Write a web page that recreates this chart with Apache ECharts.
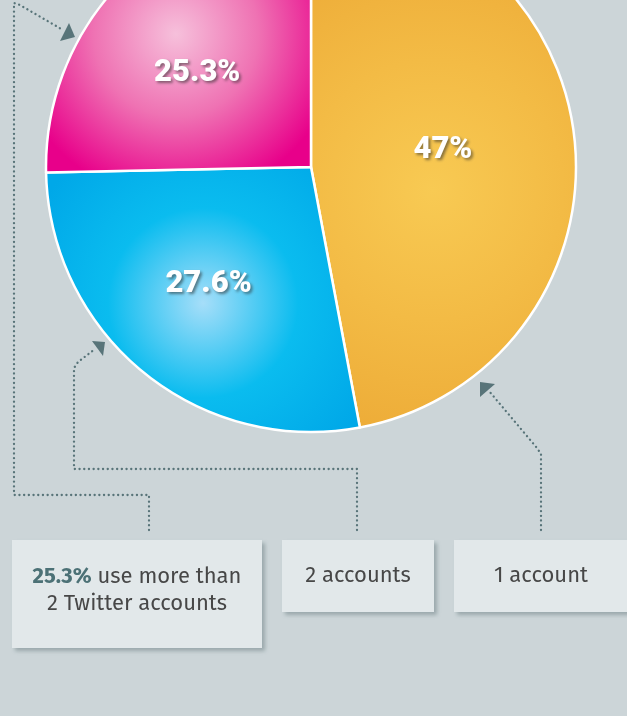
<!DOCTYPE html>
<html>
<head>
<meta charset="utf-8">
<script src="https://cdn.jsdelivr.net/npm/echarts@6/dist/echarts.min.js"></script>
<style>
html,body{margin:0;padding:0;background:#ccd5d8;}
#chart{width:627px;height:716px;}
</style>
</head>
<body>
<div id="chart"></div>
<script>
// Data
const categories = ['1 account', '2 accounts', 'more than 2 accounts'];
const values = [47, 27.6, 25.3];
const valueLabels = ['47%', '27.6%', '25.3%'];
const boxTexts = ['1 account', '2 accounts', '2 Twitter accounts'];

// Styles
const BG = '#ccd5d8';
const LINE = '#587479';
const gradients = [
  {x: 433, y: 190, r: 260, stops: ['#f8ca53', '#f3bb45', '#edab37']},
  {x: 203, y: 303, r: 190, stops: ['#a6def9', '#0abcef', '#00a8e8']},
  {x: 176, y: 34, r: 165, stops: ['#f6c0db', '#ef72b3', '#e8008a']}
];
const labelShift = [[-3, -4], [-17, 12], [-17, 1]];

function radial(g) {
  return {
    type: 'radial', x: g.x, y: g.y, r: g.r, global: true,
    colorStops: [
      {offset: 0, color: g.stops[0]},
      {offset: 0.5, color: g.stops[1]},
      {offset: 1, color: g.stops[2]}
    ]
  };
}

const chart = echarts.init(document.getElementById('chart'), null, {renderer: 'canvas'});

const dot = {stroke: LINE, lineWidth: 2.3, lineDash: [0.1, 4.6], lineCap: 'round', fill: null};

function box(x, y, w, h) {
  return {
    type: 'rect', shape: {x: x, y: y, width: w, height: h},
    style: {fill: '#e2e8ea', shadowColor: 'rgba(90,110,115,0.45)', shadowBlur: 4, shadowOffsetX: 3, shadowOffsetY: 3},
    z: 10
  };
}
function arrow(pts) {
  return {type: 'polygon', shape: {points: pts}, style: {fill: '#587479'}, z: 12};
}
const textFont = '"Fira Sans","Open Sans","Noto Sans",sans-serif';

const option = {
  backgroundColor: BG,
  animation: false,
  series: [{
    type: 'pie',
    center: [311, 167],
    radius: [0, 265],
    startAngle: 90,
    clockwise: true,
    silent: true,
    itemStyle: {borderColor: '#ffffff', borderWidth: 2.5},
    label: {
      show: true,
      position: 'inside',
      formatter: p => valueLabels[p.dataIndex],
      color: '#ffffff',
      fontFamily: 'Roboto, "Open Sans", sans-serif',
      fontWeight: 900,
      fontSize: 31,
      textShadowColor: 'rgba(40,40,40,0.55)',
      textShadowBlur: 3,
      textShadowOffsetX: 2,
      textShadowOffsetY: 2
    },
    labelLine: {show: false},
    labelLayout: p => ({dx: labelShift[p.dataIndex][0], dy: labelShift[p.dataIndex][1]}),
    data: categories.map((c, i) => ({
      name: c, value: values[i],
      itemStyle: {color: radial(gradients[i])}
    }))
  }],
  graphic: [
    // line 1: outer (more than 2 accounts)
    {type: 'polyline', shape: {points: [[149, 530], [149, 495], [14, 495], [14, 3], [20, 5], [63, 30]]}, style: dot, z: 5},
    arrow([[60, 41], [69, 23], [75, 37]]),
    // line 2: 2 accounts
    {type: 'polyline', shape: {points: [[357, 530], [357, 469], [74, 469], [74, 368], [78, 362], [95, 349]]}, style: dot, z: 5},
    arrow([[92, 341], [105, 342], [103, 356]]),
    // line 3: 1 account
    {type: 'polyline', shape: {points: [[541, 530], [541, 454], [537, 448], [489, 391]]}, style: dot, z: 5},
    arrow([[480, 382], [495, 384], [480, 397]]),
    // boxes
    box(12, 540, 250, 108),
    box(282, 540, 152, 72),
    box(454, 540, 180, 72),
    {
      type: 'text', z: 11,
      style: {
        x: 137, y: 590, align: 'center', verticalAlign: 'middle',
        text: '{b|25.3%} use more than\n' + boxTexts[2],
        font: '22px ' + textFont, fill: '#474747', lineHeight: 27,
        rich: {b: {fontWeight: 'bold', fill: '#4c7176', fontSize: 22, fontFamily: textFont}}
      }
    },
    {type: 'text', z: 11, style: {x: 358, y: 576, align: 'center', verticalAlign: 'middle', text: boxTexts[1], font: '22px ' + textFont, fill: '#474747'}},
    {type: 'text', z: 11, style: {x: 541, y: 576, align: 'center', verticalAlign: 'middle', text: boxTexts[0], font: '22px ' + textFont, fill: '#474747'}}
  ]
};
chart.setOption(option);
</script>
</body>
</html>
